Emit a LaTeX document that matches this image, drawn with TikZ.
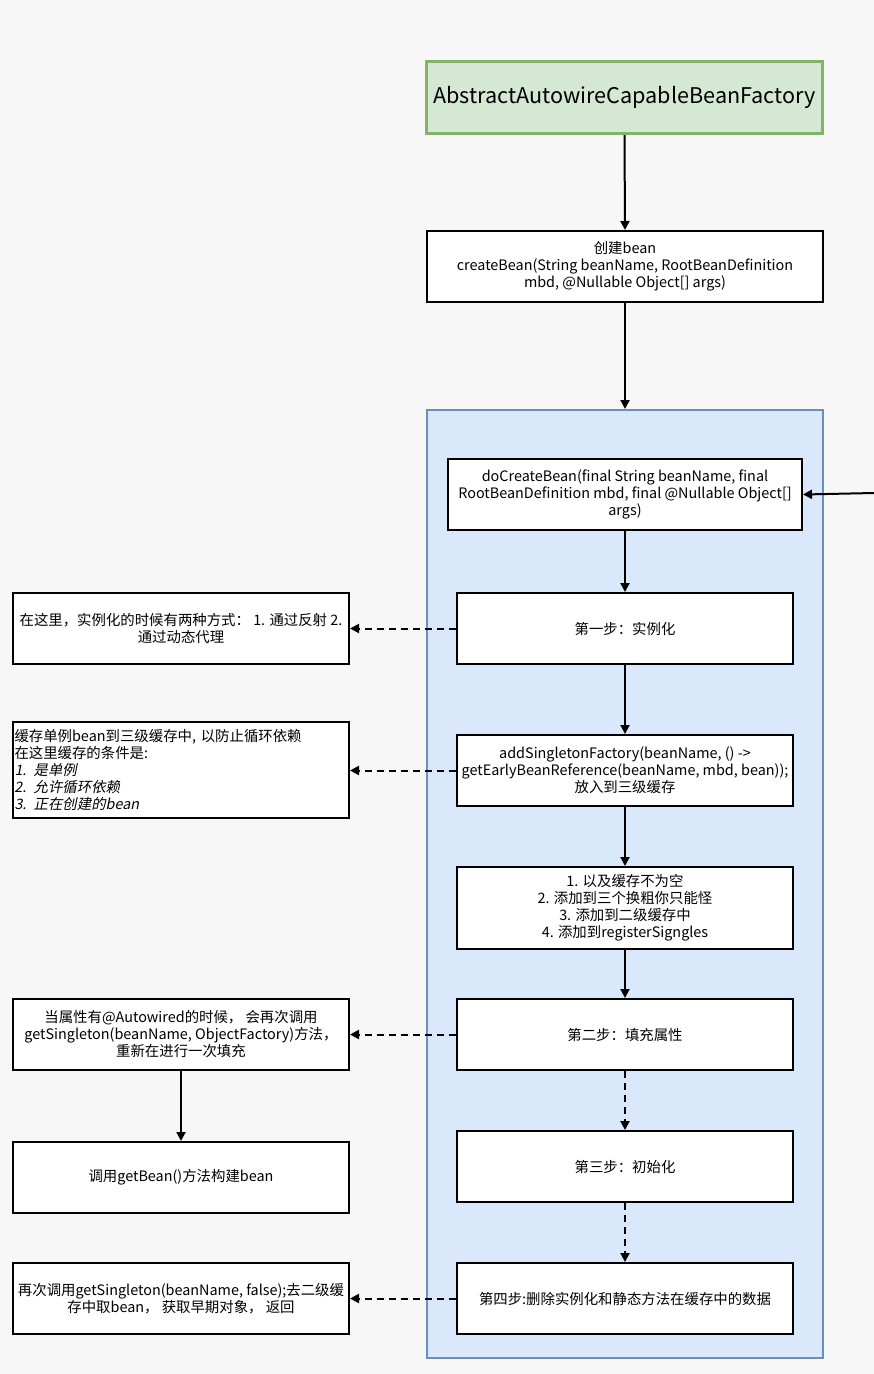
\documentclass[tikz,border=0pt]{standalone}
\usepackage{fontspec}
\setmainfont{Noto Sans CJK SC}
\newfontfamily\slantfont[FakeSlant=0.2]{Noto Sans CJK SC}
\usetikzlibrary{arrows.meta}
\definecolor{bg}{HTML}{F7F7F7}
\definecolor{grfill}{HTML}{D5E8D4}
\definecolor{grline}{HTML}{82B366}
\definecolor{blfill}{HTML}{DAE8FC}
\definecolor{blline}{HTML}{6C8EBF}
\begin{document}
\begin{tikzpicture}[x=1pt,y=-1pt,
  box/.style={draw=black, line width=2pt, fill=white, anchor=north west,
    minimum width=336pt, minimum height=71pt, align=center, inner xsep=1pt, inner ysep=3pt,
    font=\fontsize{14.4}{17}\selectfont},
  flow/.style={line width=2pt, -{Triangle[length=9pt,width=9pt]}},
  dflow/.style={line width=2pt, dash pattern=on 7pt off 5pt, -{Triangle[length=9pt,width=9pt]}}
]
\fill[bg] (0,0) rectangle (874,1374);
\useasboundingbox (0,0) rectangle (874,1374);

% container
\node[draw=blline, fill=blfill, line width=2pt, anchor=north west,
  minimum width=396pt, minimum height=948pt] (cont) at (426,409) {};

% title
\node[draw=grline, fill=grfill, line width=3pt, anchor=north west,
  minimum width=396pt, minimum height=72pt, font=\fontsize{21.6}{26}\selectfont]
  (title) at (425,60) {AbstractAutowireCapableBeanFactory};

\node[box, minimum width=396pt] (create) at (426,230)
  {创建bean\\createBean(String beanName, RootBeanDefinition\\mbd, @Nullable Object[] args)};

\node[box, minimum width=354pt] (do) at (447,458)
  {doCreateBean(final String beanName, final\\RootBeanDefinition mbd, final @Nullable Object[]\\args)};

\node[box] (s1) at (456,592) {第一步：实例化};
\node[box] (add) at (456,734)
  {addSingletonFactory(beanName, () ->\\getEarlyBeanReference(beanName, mbd, bean));\\放入到三级缓存};
\node[box, minimum height=82pt] (list) at (456,866)
  {1. 以及缓存不为空\\2. 添加到三个换粗你只能怪\\3. 添加到二级缓存中\\4. 添加到registerSigngles};
\node[box] (s2) at (456,998) {第二步：填充属性};
\node[box] (s3) at (456,1130) {第三步：初始化};
\node[box] (s4) at (456,1262) {第四步:删除实例化和静态方法在缓存中的数据};

% left notes
\node[box] (n1) at (12,592) {在这里，实例化的时候有两种方式：\ 1. 通过反射 2.\\通过动态代理};
\node[box, minimum height=96pt, align=left, text width=333pt] (n2) at (12,721)
  {缓存单例bean到三级缓存中, 以防止循环依赖\\在这里缓存的条件是:\\{\slantfont 1. 是单例}\\{\slantfont 2. 允许循环依赖}\\{\slantfont 3. 正在创建的bean}};
\node[box] (n3) at (12,998)
  {当属性有@Autowired的时候，\ 会再次调用\\getSingleton(beanName, ObjectFactory)方法，\\重新在进行一次填充};
\node[box] (n4) at (12,1141) {调用getBean()方法构建bean};
\node[box] (n5) at (12,1262) {再次调用getSingleton(beanName, false);去二级缓\\存中取bean，\ 获取早期对象，\ 返回};

\coordinate (ext) at (874,493);

% connectors
\draw[flow] (title.south) -- (create.north);
\draw[flow] (create.south) -- (cont.north);
\draw[flow] (ext) -- (do.east);
\draw[flow] (do.south) -- (s1.north);
\draw[flow] (s1.south) -- (add.north);
\draw[flow] (add.south) -- (list.north);
\draw[flow] (list.south) -- (s2.north);
\draw[dflow] (s2.south) -- (s3.north);
\draw[dflow] (s3.south) -- (s4.north);
\draw[dflow] (s1.west) -- (n1.east);
\draw[dflow] (add.west) -- (add.west -| n2.east);
\draw[dflow] (s2.west) -- (n3.east);
\draw[dflow] (s4.west) -- (n5.east);
\draw[flow] (n3.south) -- (n4.north);
\end{tikzpicture}
\end{document}
